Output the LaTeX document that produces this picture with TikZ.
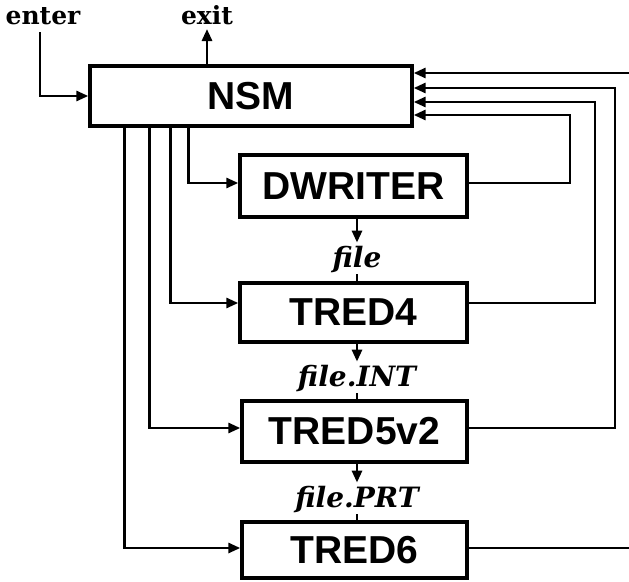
\documentclass[tikz,border=0pt]{standalone}
\usepackage{fontspec}
\usetikzlibrary{arrows.meta}
\newfontfamily\boxfont{Liberation Sans}
\newfontfamily\labfont{DejaVu Serif}
\begin{document}
\begin{tikzpicture}[x=1pt,y=-1pt, line width=2.8pt,
  >={Triangle[length=12pt,width=10pt]},
  box/.style={draw, line width=3.4pt, inner sep=0pt,
    font={\boxfont\bfseries\fontsize{39pt}{40pt}\selectfont}},
  toplab/.style={inner sep=0pt, font={\labfont\bfseries\fontsize{25pt}{26pt}\selectfont}},
  flab/.style={inner sep=1pt, text height=22pt, text depth=5pt,
    font={\labfont\bfseries\itshape\fontsize{28pt}{29pt}\selectfont}}]
\useasboundingbox (0,0) rectangle (629,581);
% boxes
\node[box, minimum width=322pt, minimum height=60pt] (nsm) at (251,96) {NSM};
\node[box, minimum width=227pt, minimum height=62pt] (dw) at (353.5,186) {DWRITER};
\node[box, minimum width=227pt, minimum height=59pt] (t4) at (353.5,312.5) {TRED4};
\node[box, minimum width=225pt, minimum height=61pt] (t5) at (354.5,431.5) {TRED5v2};
\node[box, minimum width=225pt, minimum height=56pt] (t6) at (354.5,550) {TRED6};
% enter / exit
\node[toplab, anchor=base] (enter) at (43,24) {enter};
\node[toplab, anchor=base] (exit) at (207,24) {exit};
\coordinate (enterpt) at (40,32);
\coordinate (exitpt) at (207,29);
\draw[->] (enterpt) |- (nsm.west);
\draw[->] (nsm.north -| exitpt) -- (exitpt);
% calls from NSM
\draw[->] ([xshift=100pt]nsm.south west) |- ([yshift=3pt]dw.west);
\draw[->] ([xshift=82pt]nsm.south west) |- ([yshift=9.5pt]t4.west);
\draw[->] ([xshift=61pt]nsm.south west) |- ([yshift=3.5pt]t5.west);
\draw[->] ([xshift=36pt]nsm.south west) |- ([yshift=2pt]t6.west);
% returns to NSM
\coordinate (in1) at ([yshift=23pt]nsm.east);
\coordinate (in2) at ([yshift=8pt]nsm.east);
\coordinate (in3) at ([yshift=-6pt]nsm.east);
\coordinate (in4) at ([yshift=-19pt]nsm.east);
\coordinate (r1) at (570,0);
\coordinate (r2) at (595,0);
\coordinate (r3) at (615,0);
\coordinate (r4) at (633,0);
\draw[->] ([yshift=3pt]dw.east) -| (r1 |- in4) -- (in4);
\draw[->] ([yshift=9.5pt]t4.east) -| (r2 |- in3) -- (in3);
\draw[->] ([yshift=3.5pt]t5.east) -| (r3 |- in2) -- (in2);
\draw[->] ([yshift=2pt]t6.east) -| (r4 |- in1) -- (in1);
% files
\node[flab, anchor=base] (f1) at (357,267) {file};
\node[flab, anchor=base] (f2) at (357,386) {file.INT};
\node[flab, anchor=base] (f3) at (357,507) {file.PRT};
\draw[->] (dw.south -| f1) -- (f1.north);
\draw (f1.south) -- (t4.north -| f1);
\draw[->] (t4.south -| f2) -- (f2.north);
\draw (f2.south) -- (t5.north -| f2);
\draw[->] (t5.south -| f3) -- (f3.north);
\draw (f3.south) -- (t6.north -| f3);
\end{tikzpicture}
\end{document}
